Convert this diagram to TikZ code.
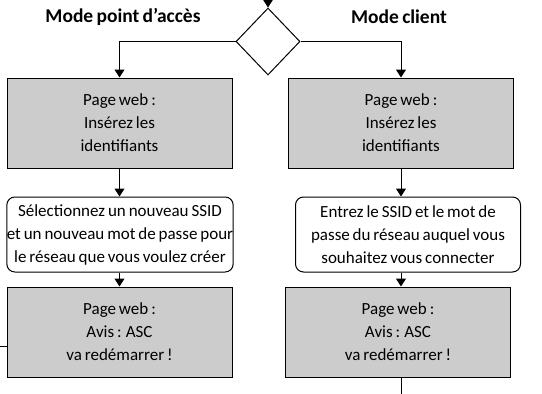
\documentclass[tikz,border=0pt]{standalone}
\usepackage{fontspec}
\setmainfont[WordSpace=0.75]{Carlito}
\usetikzlibrary{shapes.geometric,arrows.meta}
\definecolor{boxgray}{HTML}{CCCCCC}
\begin{document}
\begin{tikzpicture}[x=1pt,y=-1pt,
  txt/.style={font=\fontsize{17}{23}\selectfont},
  graybox/.style={txt, draw, line width=1pt, fill=boxgray, minimum width=225pt, minimum height=90pt, align=center, inner sep=0pt},
  roundbox/.style={txt, draw, line width=1pt, rounded corners=8pt, fill=white, minimum width=225pt, minimum height=75pt, align=center, inner sep=0pt},
  decision/.style={draw, line width=1pt, shape=diamond, minimum width=64pt, minimum height=67pt, inner sep=0pt},
  modelabel/.style={font=\bfseries\fontsize{19.5}{20}\selectfont},
  arr/.style={line width=1pt, -{Triangle[length=8pt,width=10pt]}},
  ln/.style={line width=1pt}]
\useasboundingbox (0,0) rectangle (542,394);

\node[decision] (d) at (268,41.5) {};
\coordinate (top) at (268,-2);
\draw[arr] (top) -- (d.north);

\node[modelabel] (ml) at (123,17) {Mode point d’accès};
\node[modelabel] (mr) at (399,17) {Mode client};

\node[graybox] (g1) at (119.5,123) {Page web~:\\Insérez les\\identifiants};
\node[graybox] (g2) at (401,123) {Page web~:\\Insérez les\\identifiants};

\node[roundbox] (r1) at (120,234.5) {Sélectionnez un nouveau SSID\\et un nouveau mot de passe pour\\le réseau que vous voulez créer};
\node[roundbox] (r2) at (408,234.5) {Entrez le SSID et le mot de\\passe du réseau auquel vous\\souhaitez vous connecter};

\node[graybox] (g3) at (119.5,332) {Page web~:\\Avis~: ASC\\va redémarrer~!};
\node[graybox] (g4) at (398,332) {Page web~:\\Avis~: ASC\\va redémarrer~!};

\draw[arr] (d.west) -| (g1.north);
\draw[arr] (d.east) -| (g2.north);
\draw[arr] (g1.south) -- (g1.south |- r1.north);
\draw[arr] (g2.south) -- (g2.south |- r2.north);
\draw[arr] (g1.south |- r1.south) -- (g3.north);
\draw[arr] (g2.south |- r2.south) -- (g2.south |- g4.north);

\coordinate (ls) at (0,346);
\draw[ln] (ls) -- (ls -| g3.west);
\coordinate (bs) at (401,396);
\draw[ln] (g2.south |- g4.south) -- (bs);
\end{tikzpicture}
\end{document}
